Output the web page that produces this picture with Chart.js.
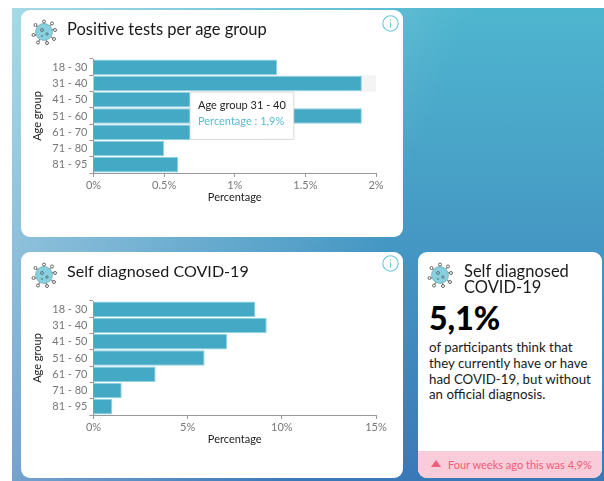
<!DOCTYPE html>
<html>
<head>
<meta charset="utf-8">
<style>
  html, body { margin: 0; padding: 0; background: #fff; }
  body { width: 604px; height: 481px; overflow: hidden; position: relative; font-family: Lato, sans-serif; color: #1a1a1a; }
  .bg { position: absolute; left: 12px; top: 8px; width: 592px; height: 473px;
        background:
          linear-gradient(110deg, rgba(255,255,255,0.49) 0%, rgba(255,255,255,0) 60%),
          linear-gradient(180deg, #4fb6cf 0%, #3a78b8 100%); }
  .card { position: absolute; background: #fff; border-radius: 9px; overflow: hidden; }
  .card canvas { position: absolute; left: 0; top: 0; }
  .title { position: absolute; font-size: 16.5px; line-height: 16px; white-space: nowrap; }
  .virus { position: absolute; width: 26px; height: 26px; }
  .info { position: absolute; right: 4px; width: 17px; height: 17px; }
  .big { position: absolute; left: 11px; top: 48px; font-size: 32px; font-weight: 900; line-height: 36px; color: #000; }
  .text { position: absolute; left: 11px; top: 88px; width: 165px; font-size: 13.3px; line-height: 15.8px; }
  .note { position: absolute; left: 0; right: 0; bottom: 0; height: 27px; background: #f8ccd8; color: #ee5d7c;
          font-size: 11px; line-height: 27px; white-space: nowrap; }
  .note svg { position: absolute; left: 13px; top: 9px; }
  .note span { position: absolute; left: 30px; }
</style>
</head>
<body>
<div class="bg"></div>

<div class="card" style="left:21px;top:10px;width:382px;height:227px">
  <canvas id="positiveChart" width="382" height="227"></canvas>
  <svg class="virus" style="left:10px;top:9px" viewBox="0 0 26 26"><use href="#virusIcon"/></svg>
  <div class="title" style="left:46px;top:11px">Positive tests per age group</div>
  <svg class="info" style="top:5px" viewBox="0 0 17 17"><use href="#infoIcon"/></svg>
</div>

<div class="card" style="left:21px;top:252px;width:382px;height:226px">
  <canvas id="selfChart" width="382" height="226"></canvas>
  <svg class="virus" style="left:10px;top:10px" viewBox="0 0 26 26"><use href="#virusIcon"/></svg>
  <div class="title" style="left:46px;top:11px;font-size:16.1px">Self diagnosed COVID-19</div>
  <svg class="info" style="top:3px" viewBox="0 0 17 17"><use href="#infoIcon"/></svg>
</div>

<div class="card" style="left:418px;top:252px;width:184px;height:226px">
  <svg class="virus" style="left:9px;top:10px" viewBox="0 0 26 26"><use href="#virusIcon"/></svg>
  <div class="title" style="left:46px;top:11px">Self diagnosed<br>COVID-19</div>
  <div class="big">5,1%</div>
  <div class="text">of participants think that they currently have or have had COVID-19, but without an official diagnosis.</div>
  <div class="note">
    <svg width="10" height="7" viewBox="0 0 10 7"><path d="M5 0L10 7H0z" fill="#ee5d7c"/></svg>
    <span>Four weeks ago this was 4,9%</span>
  </div>
</div>

<svg width="0" height="0" style="position:absolute">
  <defs>
    <g id="virusIcon">
      <g stroke="#666" stroke-width="1" fill="#fff">
        <path d="M13 13L13 2M13 13L21 4.5M13 13L24 10M13 13L23 20M13 13L16 24M13 13L7 23.5M13 13L2 17M13 13L4 6" fill="none"/>
        <circle cx="13" cy="2.5" r="1.5"/><circle cx="21" cy="4.5" r="1.5"/><circle cx="24" cy="11" r="1.5"/>
        <circle cx="23" cy="20" r="1.5"/><circle cx="16" cy="24" r="1.5"/><circle cx="7" cy="23.5" r="1.5"/>
        <circle cx="2.5" cy="16" r="1.5"/><circle cx="4.5" cy="6" r="1.5"/>
      </g>
      <circle cx="13" cy="13" r="8.5" fill="#86d0df" stroke="#6a9aa5" stroke-width="0.6"/>
      <circle cx="11" cy="11" r="1.5" fill="none" stroke="#555" stroke-width="0.7"/>
      <circle cx="16" cy="15" r="1.2" fill="none" stroke="#555" stroke-width="0.7"/>
      <circle cx="11" cy="17" r="0.8" fill="#555"/>
    </g>
    <g id="infoIcon">
      <circle cx="8.5" cy="8.5" r="7.7" fill="#fff" stroke="#6cc6dc" stroke-width="1.1"/>
      <rect x="8" y="7" width="1" height="5.5" fill="#6cc6dc"/>
      <rect x="8" y="4.5" width="1" height="1.2" fill="#6cc6dc"/>
    </g>
  </defs>
</svg>

<script src="https://cdn.jsdelivr.net/npm/chart.js@4/dist/chart.umd.min.js"></script>
<script>
const ageGroups = ['18 - 30', '31 - 40', '41 - 50', '51 - 60', '61 - 70', '71 - 80', '81 - 95'];
const positiveValues = [1.3, 1.9, 1.0, 1.9, 1.2, 0.5, 0.6];
const selfValues = [8.6, 9.2, 7.1, 5.9, 3.3, 1.5, 1.0];
const positiveTicks = [0, 0.5, 1, 1.5, 2];
const selfTicks = [0, 5, 10, 15];
const hoverIndex = 1;

const fontName = 'Lato, sans-serif';

// grey band behind the hovered bar, same as the hover cursor in the original
const hoverBand = {
  id: 'hoverBand',
  beforeDatasetsDraw(chart, args, opts) {
    if (opts.index == null) return;
    const bar = chart.getDatasetMeta(0).data[opts.index];
    const { left, width } = chart.chartArea;
    const h = bar.height + 1;
    chart.ctx.save();
    chart.ctx.fillStyle = '#f4f4f4';
    chart.ctx.fillRect(left, bar.y - h / 2, width, h);
    chart.ctx.restore();
  },
};

Chart.Tooltip.positioners.fixedBox = function () {
  return { x: 169, y: 82 };
};

function makeChart(id, values, ticks, bottomPad, band) {
  const el = document.getElementById(id);
  return new Chart(el.getContext('2d'), {
    type: 'bar',
    plugins: [hoverBand],
    data: {
      labels: ageGroups,
      datasets: [
        {
          data: values,
          backgroundColor: '#43a9c5',
          borderColor: '#8fd3e2',
          borderWidth: 1,
          categoryPercentage: 1,
          barPercentage: 0.95,
        },
      ],
    },
    options: {
      indexAxis: 'y',
      responsive: false,
      animation: false,
      events: [],
      layout: { padding: { left: 10, top: 49, right: 27, bottom: bottomPad } },
      plugins: {
        legend: { display: false },
        hoverBand: { index: band },
        tooltip: {
          enabled: band != null,
          position: 'fixedBox',
          xAlign: 'left',
          yAlign: 'top',
          caretSize: 0,
          caretPadding: 0,
          cornerRadius: 0,
          displayColors: false,
          backgroundColor: '#fff',
          borderColor: '#d8d8d8',
          borderWidth: 1,
          padding: { left: 8, right: 8, top: 7, bottom: 11 },
          titleColor: '#222',
          titleFont: { family: fontName, size: 11, weight: 'normal' },
          titleMarginBottom: 3,
          bodyColor: '#5cb9d3',
          bodyFont: { family: fontName, size: 11 },
          callbacks: {
            title: (items) => `Age group ${items[0].label}`,
            label: (ctx) => `Percentage : ${String(ctx.parsed.x).replace('.', ',')}%`,
          },
        },
      },
      scales: {
        x: {
          min: ticks[0],
          max: ticks[ticks.length - 1],
          afterBuildTicks: (axis) => { axis.ticks = ticks.map((value) => ({ value })); },
          afterFit: (axis) => { axis.height = 31; },
          grid: { drawOnChartArea: false, tickLength: 4, color: '#999' },
          border: { color: '#999' },
          ticks: { color: '#777', font: { family: fontName, size: 11 }, padding: 2, maxRotation: 0, callback: (v) => `${v}%` },
          title: { display: true, text: 'Percentage', color: '#222', font: { family: fontName, size: 11 }, padding: 0 },
        },
        y: {
          afterFit: (axis) => { axis.width = 62.5; },
          grid: { drawOnChartArea: false, tickLength: 4, color: '#999' },
          border: { color: '#999' },
          ticks: { color: '#777', font: { family: fontName, size: 11 }, padding: 2, autoSkip: false },
          title: { display: true, text: 'Age group', color: '#222', font: { family: fontName, size: 11 }, padding: 0 },
        },
      },
    },
  });
}

const positiveChart = makeChart('positiveChart', positiveValues, positiveTicks, 33, hoverIndex);
makeChart('selfChart', selfValues, selfTicks, 32, null);

positiveChart.tooltip.setActiveElements([{ datasetIndex: 0, index: hoverIndex }], { x: 0, y: 0 });
positiveChart.update();
</script>
</body>
</html>
